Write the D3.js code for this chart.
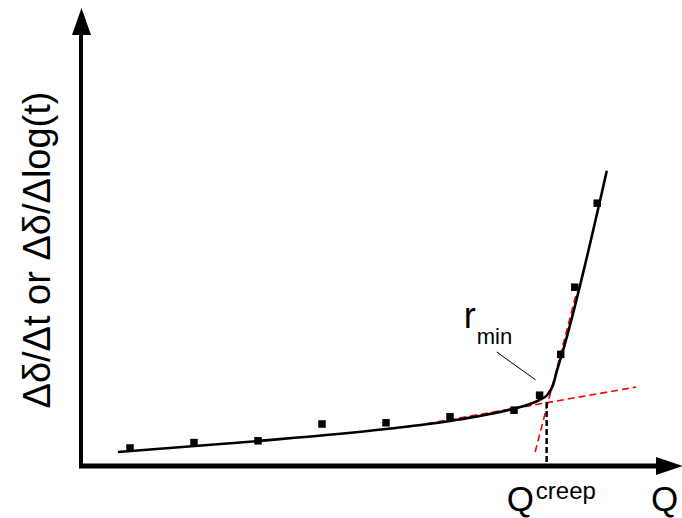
<!DOCTYPE html>
<html>
<head>
<meta charset="utf-8">
<script src="https://cdn.jsdelivr.net/npm/d3@7"></script>
<style>
  body { margin: 0; background: #fff; }
  text { font-family: "Liberation Sans", Arial, sans-serif; fill: #000; }
</style>
</head>
<body>
<script>
// measured creep rates per load step
const loadQ = [1, 2, 3, 4, 5, 6, 7, 7.4, 7.73, 7.95, 8.3];
const creepRate = [1.5, 1.95, 2.1, 3.5, 3.6, 4.1, 4.65, 5.9, 9.3, 14.9, 21.9];

// fitted curve through the points
const fitQ = [0.81, 3.0, 5.0, 6.0, 6.98, 7.2, 7.38, 7.52, 7.61, 7.67, 7.75, 8.45];
const fitRate = [1.17, 2.08, 3.08, 3.75, 4.75, 5.08, 5.46, 5.92, 6.75, 7.92, 9.33, 24.6];

// tangent lines (red dashed)
const tangentLowQ = [5.3, 8.91];
const tangentLowRate = [3.21, 6.58];
const tangentHighQ = [7.33, 7.98];
const tangentHighRate = [1.17, 14.5];

// Q creep marker and r_min leader
const qCreep = 7.51;
const qCreepRate = 5.33;
const leaderQ = [6.73, 7.34];
const leaderRate = [9.5, 7.17];

// *******************//
//     Creep Plot     //
// *******************//
class CreepPlot {
  constructor(width = 682, height = 518) {
    this.width = width;
    this.height = height;
    this.origin = {x: 81, y: 466};

    this.svg = d3.select("body").append("svg")
        .attr("width", width)
        .attr("height", height);

    this.x = d3.scaleLinear().domain([0, 9]).range([66, 642]);
    this.y = d3.scaleLinear().domain([0, 35]).range([466, 46]);
  }

  show() {
    const svg = this.svg, x = this.x, y = this.y, o = this.origin;
    const line = d3.line().x(d => x(d[0])).y(d => y(d[1]));

    // tangents
    [[tangentLowQ, tangentLowRate], [tangentHighQ, tangentHighRate]].forEach(t => {
      svg.append("path")
          .attr("d", line(d3.zip(t[0], t[1])))
          .attr("fill", "none")
          .attr("stroke", "#ff0000")
          .attr("stroke-width", 1.6)
          .attr("stroke-dasharray", "7,4");
    });

    // vertical dashed at Q creep
    svg.append("path")
        .attr("d", line([[qCreep, qCreepRate], [qCreep, 0]]))
        .attr("stroke", "#000")
        .attr("stroke-width", 2.5)
        .attr("stroke-dasharray", "6,3");

    // fitted curve
    svg.append("path")
        .attr("d", d3.line().x(d => x(d[0])).y(d => y(d[1]))
            .curve(d3.curveMonotoneX)(d3.zip(fitQ, fitRate)))
        .attr("fill", "none")
        .attr("stroke", "#000")
        .attr("stroke-width", 2.6);

    // measured points
    const s = 7.5;
    svg.selectAll("rect.pt")
        .data(d3.zip(loadQ, creepRate))
        .join("rect")
        .attr("class", "pt")
        .attr("x", d => x(d[0]) - s / 2)
        .attr("y", d => y(d[1]) - s / 2)
        .attr("width", s)
        .attr("height", s)
        .attr("fill", "#000");

    // leader for r_min
    svg.append("path")
        .attr("d", line(d3.zip(leaderQ, leaderRate)))
        .attr("stroke", "#000")
        .attr("stroke-width", 1);

    const rmin = svg.append("text")
        .attr("x", x(leaderQ[0]) - 33)
        .attr("y", y(leaderRate[0]) - 24);
    rmin.append("tspan").attr("font-size", 36).text("r");
    rmin.append("tspan").attr("font-size", 22).attr("dx", 1).attr("dy", 16).text("min");

    // axes with arrow heads
    svg.append("line")
        .attr("x1", o.x).attr("y1", o.y + 2)
        .attr("x2", o.x).attr("y2", 30)
        .attr("stroke", "#000").attr("stroke-width", 4);
    svg.append("path")
        .attr("d", `M${o.x - 9},35 L${o.x + 0.5},8 L${o.x + 10},35 Z`)
        .attr("fill", "#000");

    svg.append("line")
        .attr("x1", o.x - 2).attr("y1", o.y)
        .attr("x2", 660).attr("y2", o.y)
        .attr("stroke", "#000").attr("stroke-width", 5);
    svg.append("path")
        .attr("d", `M656,${o.y - 9} L683,${o.y} L656,${o.y + 9} Z`)
        .attr("fill", "#000");

    // axis labels
    svg.append("text")
        .attr("transform", "translate(50,250) rotate(-90)")
        .attr("text-anchor", "middle")
        .attr("font-size", 38)
        .text("Δδ/Δt or Δδ/Δlog(t)");

    svg.append("text")
        .attr("x", 651).attr("y", 511)
        .attr("font-size", 35)
        .text("Q");

    const qc = svg.append("text")
        .attr("x", x(qCreep) - 40).attr("y", 511);
    qc.append("tspan").attr("font-size", 35).text("Q");
    qc.append("tspan").attr("font-size", 24).attr("dx", 2).attr("dy", -12).text("creep");
  }
}

function whenDocumentLoaded(action) {
  if (document.readyState === "loading") {
    document.addEventListener("DOMContentLoaded", action);
  } else {
    action();
  }
}

whenDocumentLoaded(() => {
  const chart = new CreepPlot();
  chart.show();
});
</script>
</body>
</html>
